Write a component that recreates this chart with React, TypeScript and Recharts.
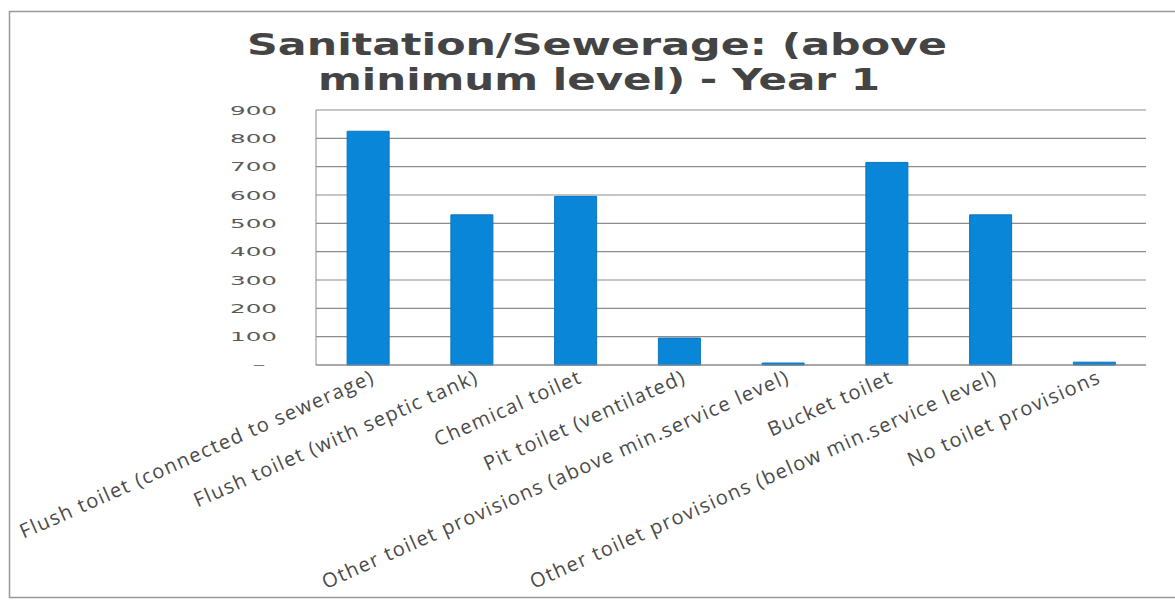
import React from 'react';
import { BarChart, Bar, XAxis, YAxis, CartesianGrid } from 'recharts';

const categories = [
  'Flush toilet (connected to sewerage)',
  'Flush toilet (with septic tank)',
  'Chemical toilet',
  'Pit toilet (ventilated)',
  'Other toilet provisions (above  min.service level)',
  'Bucket toilet',
  'Other toilet provisions (below min.service level)',
  'No toilet provisions',
];
const values = [825, 530, 595, 95, 7, 715, 530, 10];
const yTicks = [0, 100, 200, 300, 400, 500, 600, 700, 800, 900];
const titleLine1 = 'Sanitation/Sewerage: (above';
const titleLine2 = 'minimum level) - Year 1';

const data = categories.map((c, i) => ({ name: c, value: values[i] }));

const YTick = (props: any) => {
  const { x, y, payload } = props;
  const v = payload.value;
  if (v === 0) {
    return (
      <text x={x - 50} y={y} dy={4} textAnchor="end" fontFamily="DejaVu Sans" fontSize={13} fill="#777" textLength={14} lengthAdjust="spacingAndGlyphs">
        -
      </text>
    );
  }
  return (
    <text x={x - 39} y={y} dy={4.5} textAnchor="end" fontFamily="DejaVu Sans" fontSize={13} fill="#5a5a5a" textLength={47} lengthAdjust="spacingAndGlyphs">
      {String(v)}
    </text>
  );
};

const XTick = (props: any) => {
  const { x, y, payload } = props;
  const tx = x + 8;
  const ty = y + 17;
  return (
    <text x={tx} y={ty} textAnchor="end" fontFamily="Open Sans" fontSize={20} letterSpacing={1.4} fill="#4a4a4a" transform={`rotate(-24, ${tx}, ${ty})`}>
      {payload.value}
    </text>
  );
};

export default function App() {
  return (
    <div style={{ position: 'absolute', left: 0, top: 0, width: 1175, height: 602, background: '#fff' }}>
      <BarChart width={1175} height={602} data={data} margin={{ top: 110, right: 29, bottom: 0, left: 0 }} barCategoryGap="30%">
        <CartesianGrid vertical={false} stroke="#8c8c8c" strokeWidth={1.2} />
        <XAxis dataKey="name" interval={0} height={237} tickLine={false} axisLine={{ stroke: '#8c8c8c' }} tick={<XTick />} tickSize={0} tickMargin={0} />
        <YAxis domain={[0, 900]} ticks={yTicks} width={316} tickLine={false} axisLine={{ stroke: '#8c8c8c' }} tick={<YTick />} tickSize={0} tickMargin={0} />
        <Bar dataKey="value" fill="#0a86d8" stroke="#0a74c0" strokeWidth={1} isAnimationActive={false} />
      </BarChart>
      <svg width={1175} height={602} style={{ position: 'absolute', left: 0, top: 0, pointerEvents: 'none' }}>
        <rect x={9.5} y={11.5} width={1200} height={586} fill="none" stroke="#999" strokeWidth={1.5} />
        <text x={597} y={55} textAnchor="middle" fontFamily="DejaVu Sans" fontWeight="bold" fontSize={31} fill="#444" textLength={700} lengthAdjust="spacingAndGlyphs">
          {titleLine1}
        </text>
        <text x={599} y={90} textAnchor="middle" fontFamily="DejaVu Sans" fontWeight="bold" fontSize={31} fill="#444" textLength={562} lengthAdjust="spacingAndGlyphs">
          {titleLine2}
        </text>
      </svg>
    </div>
  );
}
